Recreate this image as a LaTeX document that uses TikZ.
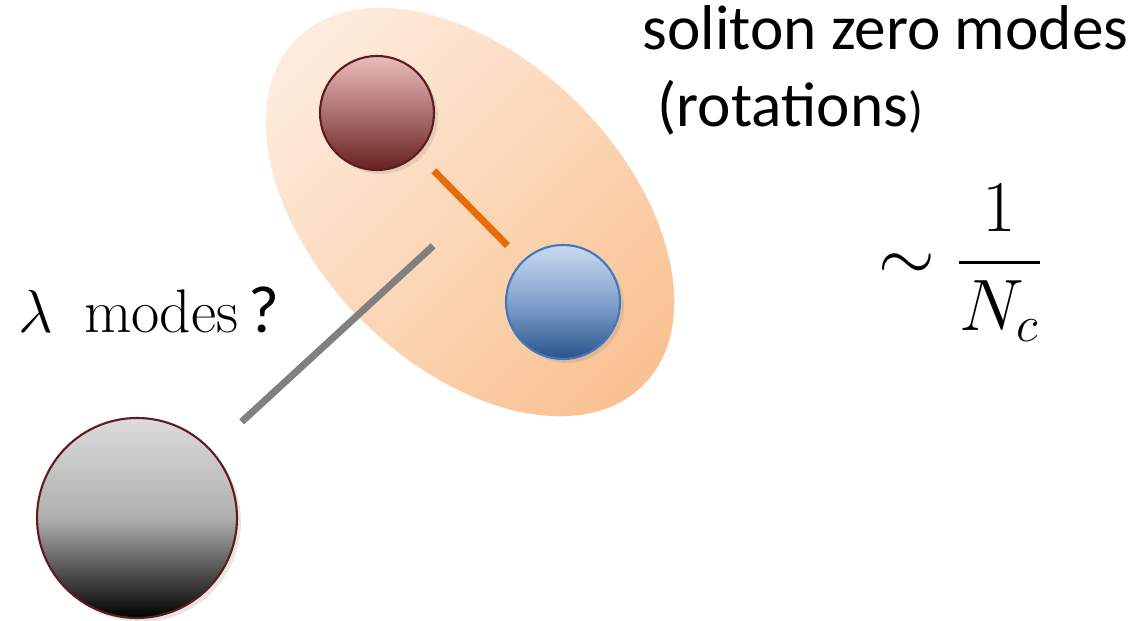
\documentclass[tikz,border=0pt]{standalone}
\usepackage{fontspec}
\newfontfamily\calibri{Carlito}
\usepackage{tikz}
\usetikzlibrary{positioning,shapes.geometric,shadows}
\usepackage{amsmath,amssymb}
\definecolor{peachLight}{RGB}{253,236,222}
\definecolor{peachDark}{RGB}{250,194,146}
\definecolor{redTop}{RGB}{234,188,188}
\definecolor{redMid}{RGB}{172,112,112}
\definecolor{redBot}{RGB}{104,32,32}
\definecolor{redRim}{RGB}{96,28,28}
\definecolor{blueTop}{RGB}{200,219,242}
\definecolor{blueMid}{RGB}{130,162,204}
\definecolor{blueBot}{RGB}{40,84,140}
\definecolor{blueRim}{RGB}{68,118,188}
\definecolor{greyTop}{RGB}{220,220,220}
\definecolor{greyMid}{RGB}{175,175,175}
\definecolor{bondOrange}{RGB}{228,108,10}
\definecolor{linkGrey}{RGB}{128,128,128}

\begin{document}
\begin{tikzpicture}[
  ball/.style={circle, inner sep=0pt, line width=0.6pt,
               drop shadow={shadow xshift=0.04cm, shadow yshift=-0.04cm, opacity=0.2}},
  bond/.style={line width=2pt, bondOrange},
  link/.style={line width=2pt, linkGrey},
  big/.style={font=\fontsize{18}{20}\selectfont, inner sep=0pt}]
  \useasboundingbox (0,0) rectangle (11.43,6.21);
  % soliton cloud
  \node[ellipse, minimum width=4.9cm, minimum height=3.06cm, rotate=-45,
        top color=peachLight, bottom color=peachDark, shading angle=45] (blob) at (4.70,4.09) {};
  \node[ball, draw=redRim, top color=redTop, bottom color=redBot, middle color=redMid,
        minimum size=1.14cm] (red) at (3.77,5.08) {};
  \node[ball, draw=blueRim, top color=blueTop, bottom color=blueBot, middle color=blueMid,
        minimum size=1.14cm] (blue) at (5.63,3.19) {};
  \node[ball, draw=redRim, top color=greyTop, bottom color=black, middle color=greyMid,
        minimum size=2.0cm] (dark) at (1.37,1.03) {};
  \draw[bond, shorten <=0.23cm, shorten >=0.21cm] (red) -- (blue);
  \draw[link, shorten <=0.41cm, shorten >=0.50cm] (dark) -- (blob.center);
  % labels
  \node[big, anchor=base west] (zero) at (6.42,5.71) {\calibri soliton zero modes};
  \node[big, anchor=base west] (rot) at (6.57,4.94)
       {\calibri (rotations{\fontsize{14}{14}\selectfont)}};
  \node[anchor=base west, inner sep=0pt, font=\fontsize{17.5}{20}\selectfont]
       (lam) at (0.18,2.88) {$\lambda\enskip\mathrm{modes}$\,{\calibri\fontsize{19}{20}\selectfont ?}};
  \node[inner sep=0pt, font=\fontsize{19.5}{22}\selectfont]
       (scale) at (9.61,3.58) {$\sim \dfrac{1}{N_c}$};
\end{tikzpicture}
\end{document}
